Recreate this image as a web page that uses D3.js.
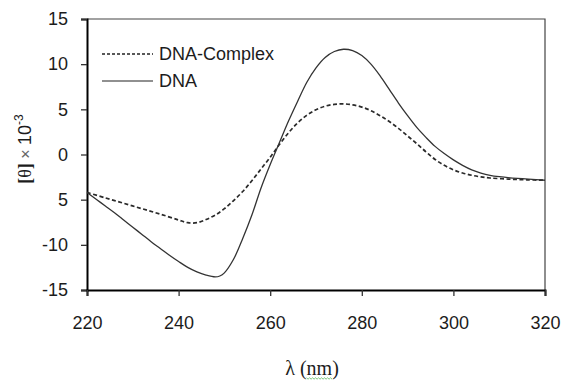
<!DOCTYPE html>
<html>
<head>
<meta charset="utf-8">
<script src="https://cdn.jsdelivr.net/npm/d3@7"></script>
<style>
  body { margin: 0; background: #fff; }
  svg { display: block; }
</style>
</head>
<body>
<div id="chart"></div>
<script>
(function() {

  // wavelength (nm) and ellipticity [θ] x 10^-3
  const dnaWavelength = [220, 222, 224, 226, 228, 230, 232, 234, 236, 238, 240, 242, 244, 246, 248, 249,
    250, 252, 254, 256, 258, 260, 262, 264, 266, 268, 270, 272, 274, 276, 278, 280, 282, 284, 286,
    288, 290, 292, 294, 296, 298, 300, 302, 304, 306, 308, 310, 314, 320];
  const dnaTheta = [-4.2, -4.95, -5.7, -6.45, -7.25, -8.05, -8.85, -9.65, -10.4, -11.15, -11.85, -12.5, -13.0, -13.35, -13.55, -13.45,
    -13.1, -11.6, -9.3, -6.7, -3.7, -1.1, 1.3, 3.7, 5.9, 8.0, 9.6, 10.75, 11.4, 11.65, 11.5, 10.95, 10.0, 8.7, 7.2,
    5.7, 4.3, 3.0, 1.9, 0.9, 0.1, -0.6, -1.2, -1.7, -2.05, -2.3, -2.45, -2.65, -2.85];

  const complexWavelength = [220, 224, 228, 232, 236, 240, 242, 244, 246, 248, 250, 252, 254, 256, 258, 260,
    262, 264, 266, 268, 270, 272, 274, 276, 278, 280, 282, 284, 286, 288, 290, 292, 294, 296, 298, 300,
    302, 304, 306, 308, 312, 316, 320];
  const complexTheta = [-4.2, -4.8, -5.4, -6.0, -6.6, -7.25, -7.55, -7.55, -7.2, -6.7, -6.0, -5.1, -4.1, -2.9, -1.6, -0.3,
    1.1, 2.4, 3.5, 4.35, 4.95, 5.35, 5.55, 5.6, 5.5, 5.25, 4.85, 4.3, 3.65, 2.9, 2.05, 1.2, 0.3, -0.55, -1.2, -1.7,
    -2.05, -2.3, -2.48, -2.6, -2.72, -2.8, -2.85];

  const xTicks = [220, 240, 260, 280, 300, 320];
  const yTicks = [-15, -10, -5, 0, 5, 10, 15];
  const yTickLabels = ['-15', '-10', '5', '0', '5', '10', '15'];
  const seriesNames = ['DNA-Complex', 'DNA'];

  const width = 565, height = 382;
  const plot = { left: 87, top: 19, right: 545, bottom: 290 };
  const sans = 'Arial, "Liberation Sans", sans-serif';
  const serif = '"Times New Roman", "Liberation Serif", serif';
  const ink = '#1c1c1c';

  const svg = d3.select('#chart').append('svg')
    .attr('width', width)
    .attr('height', height);

  const x = d3.scaleLinear().domain([220, 320]).range([plot.left, plot.right]);
  const y = d3.scaleLinear().domain([-15, 15]).range([plot.bottom, plot.top]);

  // frame (top + right)
  svg.append('path')
    .attr('d', `M${x(220)},${y(15)}H${x(320)}V${y(-15)}`)
    .attr('fill', 'none')
    .attr('stroke', '#444')
    .attr('stroke-width', 1.2);

  // y axis
  const yAxis = svg.append('g')
    .attr('transform', `translate(${plot.left},0)`)
    .call(d3.axisLeft(y).tickValues(yTicks).tickSize(6).tickPadding(13)
      .tickFormat((d, i) => yTickLabels[i]));
  yAxis.select('.domain').attr('stroke', '#000').attr('stroke-width', 2);
  yAxis.selectAll('.tick line').attr('stroke', '#333').attr('stroke-width', 1.3);
  yAxis.selectAll('text')
    .attr('font-family', sans)
    .attr('font-size', 18)
    .attr('fill', ink);

  // x axis
  const xAxis = svg.append('g')
    .attr('transform', `translate(0,${plot.bottom})`)
    .call(d3.axisBottom(x).tickValues(xTicks).tickSize(6).tickPadding(20));
  xAxis.select('.domain').attr('stroke', '#000').attr('stroke-width', 2);
  xAxis.selectAll('.tick line').attr('stroke', '#333').attr('stroke-width', 1.3);
  xAxis.selectAll('text')
    .attr('font-family', sans)
    .attr('font-size', 18)
    .attr('fill', ink);

  const line = d3.line()
    .x(d => x(d[0]))
    .y(d => y(d[1]))
    .curve(d3.curveCatmullRom.alpha(0.5));

  svg.append('path')
    .datum(d3.zip(complexWavelength, complexTheta))
    .attr('d', line)
    .attr('fill', 'none')
    .attr('stroke', '#2a2a2a')
    .attr('stroke-width', 1.7)
    .attr('stroke-dasharray', '4,2.5');

  svg.append('path')
    .datum(d3.zip(dnaWavelength, dnaTheta))
    .attr('d', line)
    .attr('fill', 'none')
    .attr('stroke', '#333')
    .attr('stroke-width', 1.3);

  // legend
  const legend = svg.append('g').attr('transform', 'translate(102,54)');
  seriesNames.forEach((name, i) => {
    const row = legend.append('g').attr('transform', `translate(0,${i * 27})`);
    row.append('line')
      .attr('x1', 0).attr('x2', 51)
      .attr('stroke', '#222')
      .attr('stroke-width', i === 0 ? 1.5 : 1.2)
      .attr('stroke-dasharray', i === 0 ? '3,2' : null);
    row.append('text')
      .attr('x', 57)
      .attr('dy', '0.35em')
      .attr('font-family', sans)
      .attr('font-size', 18)
      .attr('fill', ink)
      .text(name);
  });

  // x title
  const xTitle = svg.append('text')
    .attr('x', 312)
    .attr('y', 375)
    .attr('text-anchor', 'middle')
    .attr('font-family', serif)
    .attr('font-size', 20)
    .attr('fill', ink);
  xTitle.append('tspan').text('λ (');
  xTitle.append('tspan').text('nm');
  xTitle.append('tspan').text(')');

  // the little green squiggle under "nm"
  const tText = xTitle.node();
  const iStart = tText.textContent.indexOf('nm');
  const sx = tText.getStartPositionOfChar(iStart).x;
  const ex = tText.getEndPositionOfChar(iStart + 1).x;
  const sq = [];
  for (let px = sx, k = 0; px <= ex; px += 1.5, k++) sq.push([px, 378 + (k % 2 ? 1.2 : -0.2)]);
  svg.append('path')
    .attr('d', d3.line()(sq))
    .attr('fill', 'none')
    .attr('stroke', '#5cb85c')
    .attr('stroke-width', 0.8);

  // y title
  const yTitle = svg.append('text')
    .attr('transform', 'translate(31,149) rotate(-90)')
    .attr('text-anchor', 'middle')
    .attr('font-size', 18)
    .attr('fill', ink);
  yTitle.append('tspan').attr('font-family', serif).attr('font-weight', 'bold').text('[');
  yTitle.append('tspan').attr('font-family', serif).text('θ');
  yTitle.append('tspan').attr('font-family', serif).attr('font-weight', 'bold').text(']');
  yTitle.append('tspan').attr('font-family', sans).attr('fill', '#666').attr('font-size', 16).text(' × ');
  yTitle.append('tspan').attr('font-family', sans).text('10');
  yTitle.append('tspan').attr('font-family', sans).attr('font-size', 12).attr('dy', -8).text('-3');

}());
</script>
</body>
</html>
